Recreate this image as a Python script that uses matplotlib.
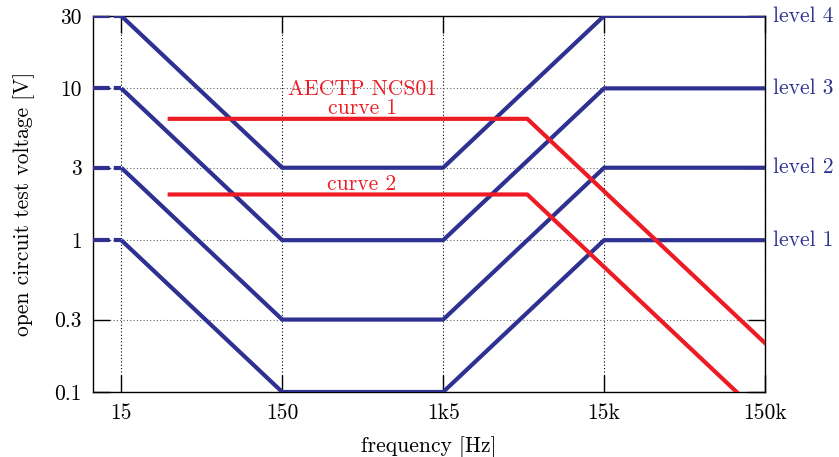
import numpy as np
import matplotlib
matplotlib.use("Agg")
import matplotlib.pyplot as plt

plt.rcParams['font.family'] = ['cmr10', 'DejaVu Serif']
plt.rcParams['axes.formatter.use_mathtext'] = True
plt.rcParams['mathtext.fontset'] = 'cm'

# level curves (blue): frequency corner points and voltages
level_names = ['level 1', 'level 2', 'level 3', 'level 4']
level_base = [1, 3, 10, 30]           # voltage at 15 Hz and above 15 kHz
level_freq = [15, 150, 1500, 15000, 150000]
level_factor = [1, 0.1, 0.1, 1, 1]    # voltage relative to base at each corner

# AECTP NCS01 curves (red)
curve_freq = [30, 5000, 150000]
curve1_v = [6.3, 6.3, 0.21]
curve2_freq = [30, 5000, 100000]
curve2_v = [2, 2, 0.1]

xticks = [15, 150, 1500, 15000, 150000]
xtick_labels = ['15', '150', '1k5', '15k', '150k']
yticks = [0.1, 0.3, 1, 3, 10, 30]
ytick_labels = ['0.1', '0.3', '1', '3', '10', '30']

blue = '#2e3192'
red = '#ed1c24'
fs = 15.5

fig = plt.figure(figsize=(8.39, 4.57), dpi=100)
ax = fig.add_axes([0.1108, 0.1422, 0.801, 0.823])
ax.set_xscale('log')
ax.set_yscale('log')
ax.set_xlim(10, 150000)
ax.set_ylim(0.1, 30)

for name, b in zip(level_names, level_base):
    v = [b * f for f in level_factor]
    ax.plot(level_freq, v, color=blue, lw=3, solid_capstyle='butt', zorder=3)
    ax.plot([10, 15], [b, b], color=blue, lw=3, ls=(0, (4, 1)), zorder=3)
    ax.text(1.012, np.log10(b / 0.1) / np.log10(300), name, transform=ax.transAxes,
            color=blue, fontsize=fs, va='center', ha='left')

ax.plot(curve_freq, curve1_v, color=red, lw=3, zorder=3)
ax.plot(curve2_freq, curve2_v, color=red, lw=3, zorder=3)

ax.text(470, 6.8, 'AECTP NCS01\ncurve 1', color=red, fontsize=fs, ha='center',
        va='baseline', multialignment='center', linespacing=0.95)
ax.text(470, 2.15, 'curve 2', color=red, fontsize=fs, ha='center', va='baseline')

ax.set_xticks(xticks)
ax.set_xticklabels(xtick_labels)
ax.set_yticks(yticks)
ax.set_yticklabels(ytick_labels)
ax.minorticks_off()
ax.tick_params(direction='in', length=12, width=1, labelsize=fs, top=True, right=True,
               pad=8)
ax.xaxis.grid(True, color='black', ls=(0, (1, 2)), lw=0.8)
ax.yaxis.grid(True, color='#666666', ls=(0, (1, 2)), lw=0.8)
for s in ax.spines.values():
    s.set_linewidth(1)

ax.set_xlabel('frequency [Hz]', fontsize=fs, labelpad=10)
ax.set_ylabel('open circuit test voltage [V]', fontsize=fs, labelpad=14)

fig.savefig('out.png', dpi=100)
